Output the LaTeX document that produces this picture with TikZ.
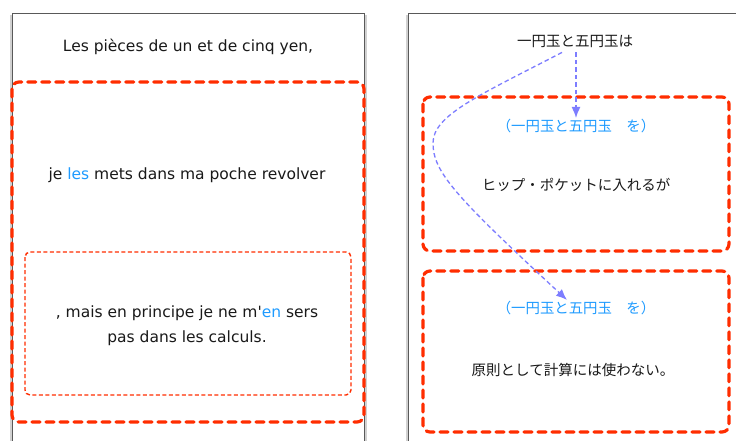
\documentclass[tikz,border=0pt]{standalone}
\usepackage{fontspec}
\setmainfont{DejaVu Sans}[Ligatures=TeXOff]
\newfontfamily\jp{Noto Sans CJK JP}
\usetikzlibrary{arrows.meta}
\definecolor{redd}{RGB}{255,45,0}
\definecolor{bluet}{RGB}{30,155,255}
\definecolor{arr}{RGB}{125,125,255}
\definecolor{txt}{RGB}{25,25,25}
\tikzset{
  panel/.style={draw=black!65, line width=1pt, fill=white},
  shade1/.style={draw=black!18, line width=5pt},
  bigbox/.style={draw=redd, line width=3.2pt, dash pattern=on 8pt off 6pt, line cap=round, rounded corners=7pt},
  smallbox/.style={draw=redd, line width=1.4pt, dash pattern=on 4pt off 2.5pt, rounded corners=5pt},
  lat/.style={font=\fontsize{15.5}{25}\selectfont, text=txt, align=center, inner sep=0pt},
  jpt/.style={font=\jp\fontsize{14.5}{20}\selectfont, text=txt, inner sep=0pt},
  jpb/.style={font=\jp\fontsize{14.4}{20}\selectfont, text=bluet, inner sep=0pt},
  link/.style={draw=arr, line width=1.3pt, dash pattern=on 4.5pt off 3pt, -{Latex[length=11pt,width=9pt]}},
}
\begin{document}
\begin{tikzpicture}[x=1pt,y=-1pt]
\useasboundingbox (0,0) rectangle (736,441);
\fill[white] (0,0) rectangle (736,441);
% panels
\draw[shade1] (12,15) -- (12,445);
\draw[shade1] (364,15) -- (364,445);
\draw[shade1] (408,15) -- (408,445);
\draw[panel] (12,14) rectangle (364,450);
\draw[panel] (408,14) rectangle (760,450);
% left
\node[lat] (t1) at (188,46.5) {Les pièces de un et de cinq yen,};
\draw[bigbox] (12,82) rectangle (364,422);
\node[lat] (l1) at (187,175.5) {je \textcolor{bluet}{les} mets dans ma poche revolver};
\draw[smallbox] (25,252) rectangle (351,395);
\node[lat] (l2) at (187,325.5) {, mais en principe je ne m'\textcolor{bluet}{en} sers\\pas dans les calculs.};
% right
\node[jpt] (t2) at (575,41) {一円玉と五円玉は};
\draw[bigbox] (423,97) rectangle (729,251);
\node[jpb] (b1) at (576,126) {（一円玉と五円玉　を）};
\node[jpt] (r1) at (576,185) {ヒップ・ポケットに入れるが};
\draw[bigbox] (423,271) rectangle (729,432);
\node[jpb] (b2) at (576,308) {（一円玉と五円玉　を）};
\node[jpt] (r2) at (573,370) {原則として計算には使わない。};
% connectors
\draw[link] ([xshift=1pt,yshift=-5pt]t2.south) -- ([yshift=1pt]b1.north);
\draw[link] ([xshift=-13pt,yshift=-5pt]t2.south) .. controls (480,95) and (433,115) .. (433,143)
   .. controls (433,172) and (455,196) .. ([xshift=-9pt,yshift=1pt]b2.north);
\end{tikzpicture}
\end{document}
